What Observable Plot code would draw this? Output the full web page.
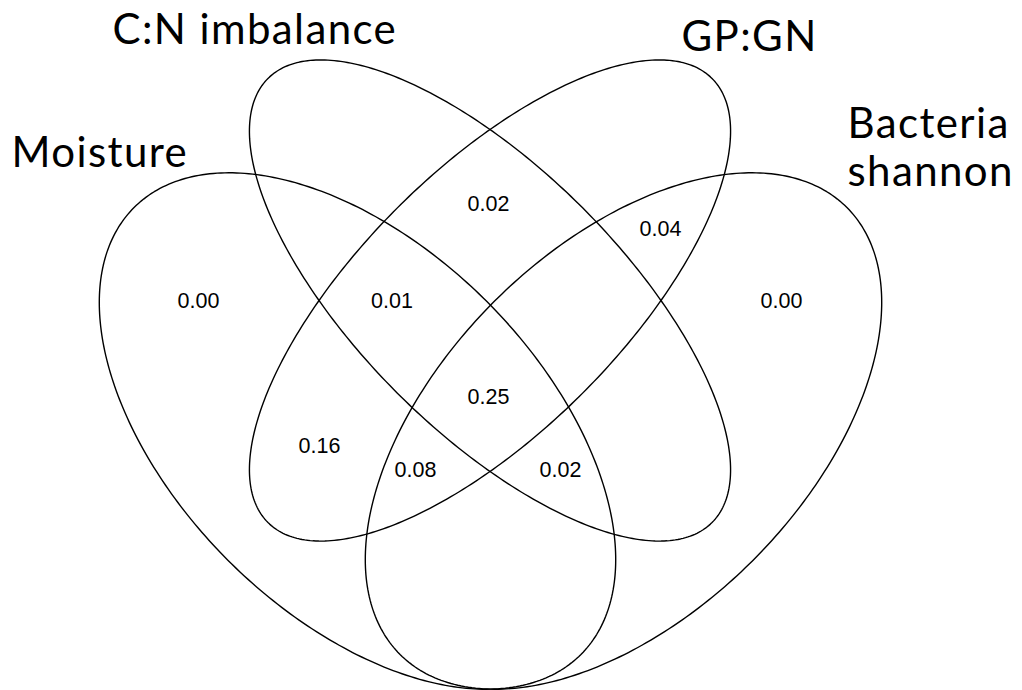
<!DOCTYPE html>
<html><head><meta charset="utf-8">
<script src="https://cdn.jsdelivr.net/npm/d3@7"></script>
<script src="https://cdn.jsdelivr.net/npm/@observablehq/plot@0.6"></script>
<style>html,body{margin:0;padding:0;background:#fff;overflow:hidden}svg{display:block}</style>
</head><body><div id="chart"></div>
<script>
// Sets and region values (proportions)
const setNames = ["Moisture", "C:N imbalance", "GP:GN", "Bacteria shannon"];
const regionNames = [
  "Moisture only",
  "Moisture & C:N imbalance & GP:GN",
  "C:N imbalance & GP:GN",
  "GP:GN & Bacteria shannon",
  "Bacteria shannon only",
  "All four",
  "Moisture & GP:GN",
  "Moisture & GP:GN & Bacteria shannon",
  "Moisture & C:N imbalance & Bacteria shannon"
];
const regionValues = [0.00, 0.01, 0.02, 0.04, 0.00, 0.25, 0.16, 0.08, 0.02];

// Layout (pixel-space geometry of the diagram)
const ellipseCx = [357, 489.5, 489.5, 623];
const ellipseCy = [430.5, 300, 300, 430.5];
const ellipseA = [316, 314, 314, 316];
const ellipseB = [183, 131, 131, 183];
const ellipseAngle = [45, 45, -45, -45];
const regionLabelX = [198, 391.5, 488, 660, 781, 488, 319, 415, 560];
const regionLabelY = [301, 301, 204, 229, 301, 396.5, 445.5, 470, 470];
const setLabelX = [11, 112, 681, 847];
const setLabelY = [166, 43, 50, 185];
const setLabelText = ["Moisture", "C:N imbalance", "GP:GN", "Bacteria\nshannon"];

const outline = [];
setNames.forEach((name, i) => {
  const th = ellipseAngle[i] * Math.PI / 180;
  for (let k = 0; k < 360; k++) {
    const t = k * Math.PI / 180;
    const ca = ellipseA[i] * Math.cos(t), sb = ellipseB[i] * Math.sin(t);
    outline.push({set: name,
      x: ellipseCx[i] + ca * Math.cos(th) - sb * Math.sin(th),
      y: ellipseCy[i] + ca * Math.sin(th) + sb * Math.cos(th)});
  }
});
const regions = regionNames.map((r, i) => ({region: r, value: regionValues[i], x: regionLabelX[i], y: regionLabelY[i]}));
const setLabels = setNames.map((s, i) => ({set: s, text: setLabelText[i], x: setLabelX[i], y: setLabelY[i]}));

const chart = Plot.plot({
  width: 1022, height: 690,
  margin: 0,
  x: {domain: [0, 1022], axis: null},
  y: {domain: [0, 690], reverse: true, axis: null},
  marks: [
    Plot.line(outline, {x: "x", y: "y", z: "set", curve: "linear-closed", stroke: "#000", strokeWidth: 1.4}),
    Plot.text(regions, {x: "x", y: "y", text: d => d.value.toFixed(2), fontSize: 21.5, fontFamily: "Liberation Sans, Arial, sans-serif", fill: "#000", textAnchor: "middle", lineAnchor: "middle"}),
    Plot.text(setLabels, {x: "x", y: "y", text: "text", fontSize: 42, fontFamily: "Lato, sans-serif", fill: "#000", textAnchor: "start", lineAnchor: "bottom", lineHeight: 1.12})
  ]
});
d3.select(chart).selectAll("g[font-family^='Lato']").style("letter-spacing", "1.4px");
document.getElementById("chart").appendChild(chart);
</script>
</body></html>
